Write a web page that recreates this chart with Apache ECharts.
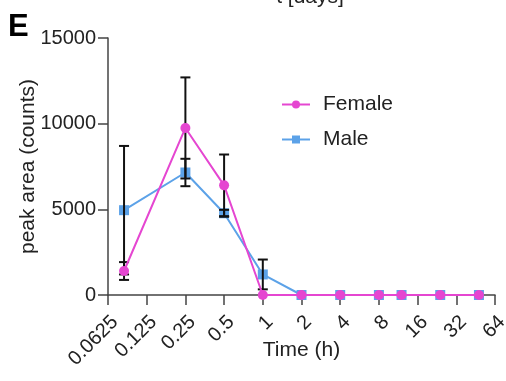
<!DOCTYPE html>
<html>
<head>
<meta charset="utf-8">
<script src="https://cdn.jsdelivr.net/npm/echarts@6/dist/echarts.min.js"></script>
<style>html,body{margin:0;padding:0;background:#fff}#c{width:506px;height:381px}</style>
</head>
<body>
<div id="c"></div>
<script>
// Data
const times = [0.0833, 0.25, 0.5, 1, 2, 4, 8, 12, 24, 48];
const femaleValues = [1400, 9750, 6400, 0, 0, 0, 0, 0, 0, 0];
const femaleErrors = [520, 2950, 1800, 0, 0, 0, 0, 0, 0, 0];
const maleValues = [4950, 7150, 4770, 1200, 0, 0, 0, 0, 0, 0];
const maleErrors = [3750, 800, 200, 870, 0, 0, 0, 0, 0, 0];
const xTickLabels = ['0.0625', '0.125', '0.25', '0.5', '1', '2', '4', '8', '16', '32', '64'];
const yTicks = [0, 5000, 10000, 15000];

const FEMALE = '#E546D1';
const MALE = '#5CA2E8';
const FONT = "'Liberation Sans', Arial, sans-serif";

const fPts = times.map((t, i) => [t, femaleValues[i]]);
const mPts = times.map((t, i) => [t, maleValues[i]]);
const errData = [];
times.forEach((t, i) => {
  if (femaleErrors[i] > 0) errData.push([t, femaleValues[i] - femaleErrors[i], femaleValues[i] + femaleErrors[i]]);
  if (maleErrors[i] > 0) errData.push([t, maleValues[i] - maleErrors[i], maleValues[i] + maleErrors[i]]);
});

function fmtX(v) {
  const r = +(+v).toPrecision(6);
  const idx = xTickLabels.indexOf(String(r));
  return idx >= 0 ? xTickLabels[idx] : String(r);
}
function fmtY(v) {
  return String(Math.round(v));
}

const chart = echarts.init(document.getElementById('c'), null, {renderer: 'canvas'});
chart.setOption({
  animation: false,
  textStyle: {fontFamily: FONT},
  grid: {left: 108, right: 11, top: 38, bottom: 86, containLabel: false, outerBoundsMode: 'none'},
  graphic: [
    {type: 'text', left: 8, top: 12, style: {text: 'E', font: "bold 31px " + FONT, fill: '#000'}},
    {type: 'text', x: 310, y: 8, style: {text: 't [days]', font: "21px " + FONT, fill: '#222', textAlign: 'center', textVerticalAlign: 'bottom'}}
  ],
  legend: {
    left: 276, top: 89, orient: 'vertical', itemWidth: 28, itemHeight: 10, itemGap: 14,
    data: ['Female', 'Male'],
    textStyle: {fontSize: 21, color: '#222', fontFamily: FONT, padding: [0, 0, 0, 8]}
  },
  xAxis: {
    type: 'log', logBase: 2, min: 0.0625, max: 64, interval: 1,
    name: 'Time (h)', nameLocation: 'middle', nameGap: 45, nameMoveOverlap: false,
    nameTextStyle: {fontSize: 21, color: '#222', fontFamily: FONT},
    axisLine: {lineStyle: {color: '#444', width: 1.5}},
    axisTick: {show: true, length: 10, lineStyle: {color: '#444', width: 1.5}},
    axisLabel: {rotate: 45, margin: 17, fontSize: 20, color: '#222', fontFamily: FONT, formatter: fmtX, verticalAlign: 'top'},
    splitLine: {show: false}, minorTick: {show: false}
  },
  yAxis: {
    type: 'value', min: 0, max: 15000, interval: 5000,
    name: 'peak area (counts)', nameLocation: 'middle', nameGap: 69, nameRotate: 90, nameMoveOverlap: false,
    nameTextStyle: {fontSize: 21, color: '#222', fontFamily: FONT},
    axisLine: {show: true, lineStyle: {color: '#444', width: 1.5}},
    axisTick: {show: true, length: 10, lineStyle: {color: '#444', width: 1.5}},
    axisLabel: {margin: 12, fontSize: 20, color: '#222', fontFamily: FONT, formatter: fmtY},
    splitLine: {show: false}
  },
  series: [
    {
      name: 'Male', type: 'line', data: mPts, z: 2,
      symbol: 'rect', symbolSize: 10, color: MALE,
      lineStyle: {color: MALE, width: 2}, itemStyle: {color: MALE}
    },
    {
      name: 'err', type: 'custom', z: 3, data: errData,
      renderItem: function (params, api) {
        const x = api.value(0);
        const lo = api.coord([x, api.value(1)]);
        const hi = api.coord([x, api.value(2)]);
        const w = 5;
        const st = {stroke: '#111', lineWidth: 2};
        return {type: 'group', children: [
          {type: 'line', shape: {x1: lo[0], y1: lo[1], x2: hi[0], y2: hi[1]}, style: st},
          {type: 'line', shape: {x1: lo[0] - w, y1: lo[1], x2: lo[0] + w, y2: lo[1]}, style: st},
          {type: 'line', shape: {x1: hi[0] - w, y1: hi[1], x2: hi[0] + w, y2: hi[1]}, style: st}
        ]};
      },
      silent: true
    },
    {
      name: 'Female', type: 'line', data: fPts, z: 4,
      symbol: 'circle', symbolSize: 10, color: FEMALE,
      lineStyle: {color: FEMALE, width: 2}, itemStyle: {color: FEMALE}
    }
  ]
});
</script>
</body>
</html>
